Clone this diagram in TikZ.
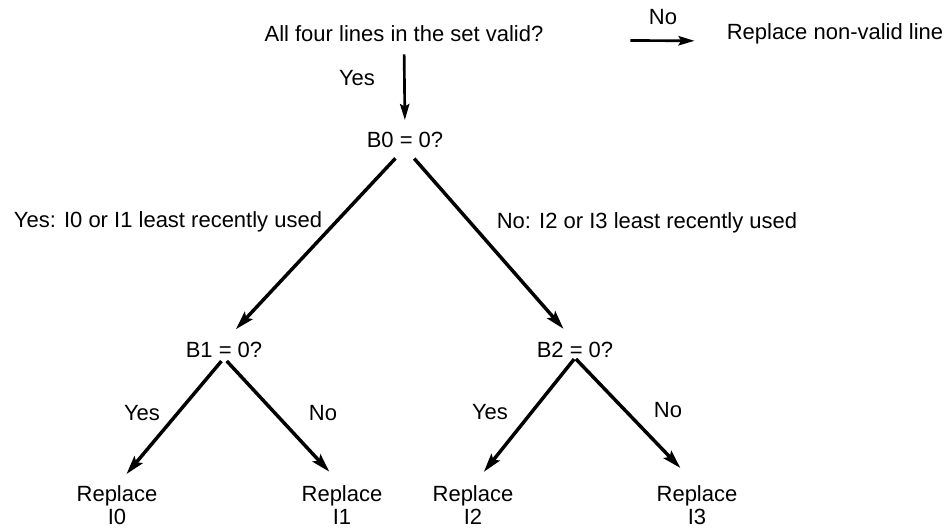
\documentclass[tikz,border=0pt]{standalone}
\usepackage{fontspec}
\setmainfont{Liberation Sans}
\usetikzlibrary{arrows.meta}
\begin{document}
\begin{tikzpicture}[x=0.75pt,y=-0.75pt,
  lbl/.style={font=\fontsize{16.5}{19}\selectfont, inner sep=0pt, align=center},
  qbox/.style={lbl},
  arr/.style={line width=2.6pt, -{Stealth[length=14pt,width=8pt,inset=2.5pt]}},
  thinarr/.style={line width=2pt, -{Stealth[length=12pt,width=7pt,inset=2pt]}},
]
\useasboundingbox[fill=white] (0,0) rectangle (949,529);
% nodes
\node[qbox, anchor=base] (q0) at (404,41) {All four lines in the set valid?};
\node[qbox, anchor=base] (nv) at (835,39) {Replace non-valid line};
\node[qbox] (b0) at (405,140) {B0 = 0?};
\node[qbox] (b1) at (224,350) {B1 = 0?};
\node[qbox] (b2) at (575,350) {B2 = 0?};
\node[lbl] (r0) at (117,505) {Replace\\[-2pt]I0};
\node[lbl] (r1) at (342,505) {Replace\\[-2pt]I1};
\node[lbl] (r2) at (473,505) {Replace\\[-2pt]I2};
\node[lbl] (r3) at (697,505) {Replace\\[-2pt]I3};
% labels
\node[lbl] (lno) at (663,17) {No};
\node[lbl] (lyes) at (357,78) {Yes};
\node[lbl] (lb0y) at (168,222) {Yes: I0 or I1 least recently used};
\node[lbl] (lb0n) at (647,223) {No: I2 or I3 least recently used};
\node[lbl] (lb1y) at (142,413) {Yes};
\node[lbl] (lb1n) at (323,413) {No};
\node[lbl] (lb2y) at (490,412) {Yes};
\node[lbl] (lb2n) at (668,410) {No};
% connectors
\draw[thinarr, shorten <=65pt, shorten >=24pt] ([yshift=0.75pt]q0.base east) -- ([yshift=-1.5pt]nv.base west);
\draw[thinarr, shorten <=9.75pt, shorten >=9pt] (q0.south) -- (b0.north);
\draw[arr, shorten <=10.5pt, shorten >=13pt] (b0.south) -- (b1.north);
\draw[arr, shorten <=10.5pt, shorten >=13pt] (b0.south) -- (b2.north);
\draw[arr, shorten <=3pt, shorten >=11pt] (b1.south) -- (r0.north);
\draw[arr, shorten <=3pt, shorten >=14pt] (b1.south) -- (r1.north);
\draw[arr, shorten <=1pt, shorten >=13pt] (b2.south) -- (r2.north);
\draw[arr, shorten <=1pt, shorten >=18pt] (b2.south) -- (r3.north);
\end{tikzpicture}
\end{document}
